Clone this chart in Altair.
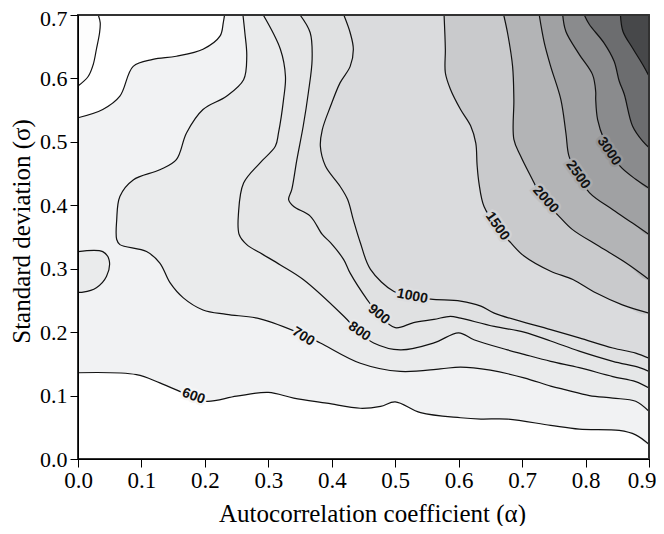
import altair as alt
import pandas as pd

# ---------------- data ----------------
X_MIN, X_MAX = 0.0, 0.9
Y_MIN, Y_MAX = 0.0, 0.7

x_ticks = [0.0, 0.1, 0.2, 0.3, 0.4, 0.5, 0.6, 0.7, 0.8, 0.9]
y_ticks = [0.0, 0.1, 0.2, 0.3, 0.4, 0.5, 0.6, 0.7]

# contour 500 (top-left pocket)
c500_a = [0.000, 0.016, 0.024, 0.029, 0.034, 0.035, 0.032]
c500_s = [0.588, 0.603, 0.622, 0.646, 0.672, 0.688, 0.700]

# contour 600, lower branch (left edge -> right edge)
c600b_a = [0.000, 0.092, 0.129, 0.181, 0.203, 0.250, 0.300, 0.340, 0.392, 0.445, 0.477,
           0.500, 0.540, 0.603, 0.635, 0.677, 0.745, 0.790, 0.853, 0.879, 0.900]
c600b_s = [0.136, 0.133, 0.120, 0.098, 0.091, 0.099, 0.105, 0.096, 0.088, 0.080, 0.083,
           0.090, 0.073, 0.065, 0.063, 0.063, 0.053, 0.047, 0.045, 0.038, 0.023]

# contour 600, upper-left branch (left edge -> top edge)
c600t_a = [0.000, 0.039, 0.066, 0.087, 0.118, 0.155, 0.197, 0.224, 0.229, 0.231]
c600t_s = [0.538, 0.551, 0.572, 0.619, 0.630, 0.635, 0.646, 0.667, 0.688, 0.700]

# contour 700 (top edge -> right edge)
c700_a = [0.260, 0.263, 0.266, 0.261, 0.234, 0.197, 0.171, 0.155, 0.129, 0.087, 0.066,
          0.061, 0.061, 0.066, 0.108, 0.129, 0.145, 0.166, 0.197, 0.234, 0.287, 0.355,
          0.382, 0.445, 0.508, 0.571, 0.603, 0.650, 0.703, 0.745, 0.769, 0.806, 0.843,
          0.879, 0.900]
c700_s = [0.700, 0.672, 0.635, 0.598, 0.572, 0.551, 0.514, 0.472, 0.456, 0.440, 0.414,
          0.377, 0.346, 0.338, 0.327, 0.309, 0.278, 0.254, 0.235, 0.228, 0.221, 0.196,
          0.183, 0.151, 0.138, 0.142, 0.145, 0.140, 0.128, 0.115, 0.109, 0.100, 0.096,
          0.091, 0.075]

# contour 700, small closed loop at the left edge
c700c_a = [0.000, 0.039, 0.049, 0.045, 0.029, 0.008, 0.000]
c700c_s = [0.327, 0.327, 0.314, 0.288, 0.270, 0.263, 0.263]

c800_a = [0.292, 0.319, 0.327, 0.324, 0.316, 0.311, 0.287, 0.261, 0.253, 0.254, 0.266,
          0.287, 0.319, 0.355, 0.419, 0.442, 0.466, 0.508, 0.561, 0.600, 0.624, 0.677,
          0.703, 0.745, 0.790, 0.843, 0.879, 0.900]
c800_s = [0.700, 0.646, 0.603, 0.567, 0.514, 0.493, 0.467, 0.435, 0.388, 0.354, 0.338,
          0.325, 0.306, 0.283, 0.225, 0.201, 0.183, 0.172, 0.183, 0.199, 0.188, 0.172,
          0.165, 0.154, 0.144, 0.130, 0.122, 0.112]

c900_a = [0.350, 0.366, 0.369, 0.363, 0.355, 0.345, 0.337, 0.332, 0.340, 0.366, 0.385,
          0.398, 0.419, 0.429, 0.456, 0.474, 0.500, 0.529, 0.561, 0.587, 0.603, 0.656,
          0.703, 0.745, 0.790, 0.843, 0.885, 0.900]
c900_s = [0.700, 0.672, 0.630, 0.577, 0.525, 0.472, 0.425, 0.409, 0.398, 0.383, 0.354,
          0.341, 0.314, 0.293, 0.251, 0.228, 0.207, 0.215, 0.220, 0.225, 0.222, 0.209,
          0.200, 0.186, 0.170, 0.154, 0.144, 0.138]

c1000_a = [0.419, 0.429, 0.434, 0.429, 0.413, 0.398, 0.385, 0.382, 0.390, 0.413, 0.425,
           0.434, 0.445, 0.461, 0.498, 0.527, 0.556, 0.603, 0.635, 0.656, 0.745, 0.790,
           0.843, 0.879, 0.900]
c1000_s = [0.700, 0.672, 0.646, 0.619, 0.593, 0.556, 0.519, 0.493, 0.462, 0.430, 0.409,
           0.377, 0.341, 0.299, 0.264, 0.257, 0.252, 0.249, 0.241, 0.230, 0.204, 0.191,
           0.175, 0.167, 0.159]

c1500_a = [0.577, 0.579, 0.579, 0.587, 0.603, 0.619, 0.627, 0.629, 0.632, 0.640, 0.661,
           0.682, 0.703, 0.745, 0.780, 0.816, 0.858, 0.900]
c1500_s = [0.700, 0.646, 0.609, 0.583, 0.551, 0.525, 0.498, 0.464, 0.435, 0.398, 0.365,
           0.341, 0.320, 0.296, 0.283, 0.262, 0.243, 0.230]

c2000_a = [0.671, 0.677, 0.685, 0.687, 0.687, 0.698, 0.719, 0.729, 0.743, 0.756, 0.779,
           0.822, 0.864, 0.900]
c2000_s = [0.700, 0.672, 0.619, 0.567, 0.504, 0.477, 0.435, 0.414, 0.398, 0.385, 0.362,
           0.335, 0.309, 0.283]

c2500_a = [0.727, 0.735, 0.745, 0.761, 0.769, 0.774, 0.787, 0.806, 0.843, 0.874, 0.900]
c2500_s = [0.700, 0.656, 0.619, 0.567, 0.514, 0.477, 0.451, 0.420, 0.393, 0.372, 0.354]

c3000_a = [0.764, 0.769, 0.790, 0.811, 0.816, 0.816, 0.819, 0.829, 0.838, 0.854, 0.879, 0.900]
c3000_s = [0.700, 0.674, 0.638, 0.606, 0.579, 0.567, 0.535, 0.504, 0.488, 0.462, 0.441, 0.427]

c3500_a = [0.798, 0.806, 0.829, 0.845, 0.853, 0.861, 0.874, 0.890, 0.900]
c3500_s = [0.700, 0.685, 0.656, 0.627, 0.596, 0.575, 0.525, 0.501, 0.491]

c4000_a = [0.855, 0.859, 0.874, 0.890, 0.900]
c4000_s = [0.700, 0.674, 0.648, 0.622, 0.604]

# contour labels
lab_text = ["600", "700", "800", "900", "1000", "1500", "2000", "2500", "3000"]
lab_a = [0.182, 0.355, 0.4435, 0.474, 0.527, 0.661, 0.737, 0.788, 0.837]
lab_s = [0.099, 0.193, 0.201, 0.228, 0.2565, 0.367, 0.409, 0.448, 0.485]
lab_angle = [20, 32, 34, 39, 11, 55, 49, 55, 56]

# ---------------- styling ----------------
col_below500 = "#fdfdfd"
col_500 = "#f8f8f8"
band_col = {
    600: "#f1f2f3", 700: "#eaebec", 800: "#e5e6e7", 900: "#e0e1e2", 1000: "#dadbdd",
    1500: "#c9cacc", 2000: "#b3b4b6", 2500: "#a0a1a3", 3000: "#8a8b8d",
    3500: "#6c6d6f", 4000: "#47484a",
}
halo_col = ["#f5f5f5", "#eeeff0", "#e8e9ea", "#e3e4e5", "#dddee0",
            "#d2d3d5", "#bebfc1", "#aaabad", "#959698"]

# ---------------- build tables ----------------
poly_rows = []
line_rows = []


def add_poly(name, a, s):
    for i, (x, y) in enumerate(zip(a, s)):
        poly_rows.append({"name": name, "i": i, "a": x, "s": y})


def add_line(name, a, s):
    for i, (x, y) in enumerate(zip(a, s)):
        line_rows.append({"name": name, "i": i, "a": x, "s": y})


corner_tr = ([X_MAX], [Y_MAX])
corner_tl = ([X_MIN], [Y_MAX])

add_poly("p500", c500_a + corner_tl[0], c500_s + corner_tl[1])
add_poly("p600", c600b_a + corner_tr[0] + c600t_a[::-1], c600b_s + corner_tr[1] + c600t_s[::-1])
upper = [(700, c700_a, c700_s), (800, c800_a, c800_s), (900, c900_a, c900_s),
         (1000, c1000_a, c1000_s), (1500, c1500_a, c1500_s), (2000, c2000_a, c2000_s),
         (2500, c2500_a, c2500_s), (3000, c3000_a, c3000_s), (3500, c3500_a, c3500_s),
         (4000, c4000_a, c4000_s)]
for lev, a, s in upper:
    add_poly(f"p{lev}", a + corner_tr[0], s + corner_tr[1])
add_poly("p700c", c700c_a, c700c_s)

add_line("l500", c500_a, c500_s)
add_line("l600b", c600b_a, c600b_s)
add_line("l600t", c600t_a, c600t_s)
add_line("l700c", c700c_a, c700c_s)
for lev, a, s in upper:
    add_line(f"l{lev}", a, s)

poly_df = pd.DataFrame(poly_rows)
line_df = pd.DataFrame(line_rows)
lab_df = pd.DataFrame({"t": lab_text, "a": lab_a, "s": lab_s, "ang": lab_angle, "halo": halo_col})

W, H = 571, 444
SERIF = "Liberation Serif"
CURVE = "catmull-rom"

xscale = alt.Scale(domain=[X_MIN, X_MAX], nice=False, zero=False)
yscale = alt.Scale(domain=[Y_MIN, Y_MAX], nice=False, zero=False)
xaxis = alt.Axis(values=x_ticks, format=".1f", title="Autocorrelation coefficient (α)",
                 labelFont=SERIF, labelFontSize=23, labelColor="black",
                 labelAlign={"condition": {"test": "datum.value >= 0.89", "value": "right"},
                             "value": "center"},
                 labelOffset={"condition": {"test": "datum.value >= 0.89", "value": 7},
                              "value": 0},
                 titleFont=SERIF, titleFontSize=25, titleFontWeight="normal", titleColor="black",
                 tickColor="black", tickSize=8, domainColor="black", labelPadding=2,
                 titleBaseline="alphabetic", titleY=62, titleX=294, titleAlign="center",
                 grid=False, labelFlush=False,
                 labelOverlap=False, labelBound=False, zindex=1)
yaxis = alt.Axis(values=y_ticks, format=".1f", title="Standard deviation (σ)",
                 labelFont=SERIF, labelFontSize=22, labelColor="black",
                 labelOffset={"condition": {"test": "datum.value >= 0.69", "value": 3},
                              "value": 0},
                 titleFont=SERIF, titleFontSize=25, titleFontWeight="normal", titleColor="black",
                 tickColor="black", tickSize=8, domainColor="black", labelPadding=3,
                 titleX=-57, titleY=216, titleBaseline="middle", grid=False, labelFlush=False,
                 labelOverlap=False, zindex=1)

X = alt.X("a:Q", scale=xscale, axis=xaxis)
Y = alt.Y("s:Q", scale=yscale, axis=yaxis)

layers = []
poly_order = [("p500", col_below500), ("p600", band_col[600]), ("p700", band_col[700]),
              ("p700c", band_col[700])] + [(f"p{lev}", band_col[lev]) for lev, _, _ in upper[1:]]
for nm, colr in poly_order:
    layers.append(
        alt.Chart(poly_df).transform_filter(alt.datum.name == nm)
        .mark_line(filled=True, fill=colr, strokeWidth=0, interpolate=CURVE, clip=True)
        .encode(x=X, y=Y, order="i:Q")
    )

layers.append(
    alt.Chart(line_df).mark_line(color="#111111", strokeWidth=1.2, interpolate=CURVE, clip=True)
    .encode(x=X, y=Y, detail="name:N", order="i:Q")
)

layers.append(
    alt.Chart(lab_df).mark_text(font="Liberation Sans", fontWeight="bold", fontSize=14,
                                strokeWidth=5, align="center", baseline="middle")
    .encode(x=X, y=Y, text="t:N", angle=alt.Angle("ang:Q", scale=None),
            stroke=alt.Stroke("halo:N", scale=None), fill=alt.Fill("halo:N", scale=None))
)
layers.append(
    alt.Chart(lab_df).mark_text(font="Liberation Sans", fontWeight="bold", fontSize=14,
                                color="#111111", align="center", baseline="middle")
    .encode(x=X, y=Y, text="t:N", angle=alt.Angle("ang:Q", scale=None))
)

frame = alt.Chart(lab_df).mark_rect(fillOpacity=0, stroke="#333333", strokeWidth=1.2).encode(
    x=alt.value(0), x2=alt.value(W), y=alt.value(0), y2=alt.value(H))
layers.append(frame)

chart = alt.layer(*layers).properties(
    width=W, height=H,
    autosize=alt.AutoSizeParams(type="none"),
    padding={"left": 70, "top": 7, "right": 7, "bottom": 67},
).configure_view(stroke=None, fill=col_500).configure(background="white")

chart.save("out.html", embed_options={"renderer": "svg", "actions": False})
